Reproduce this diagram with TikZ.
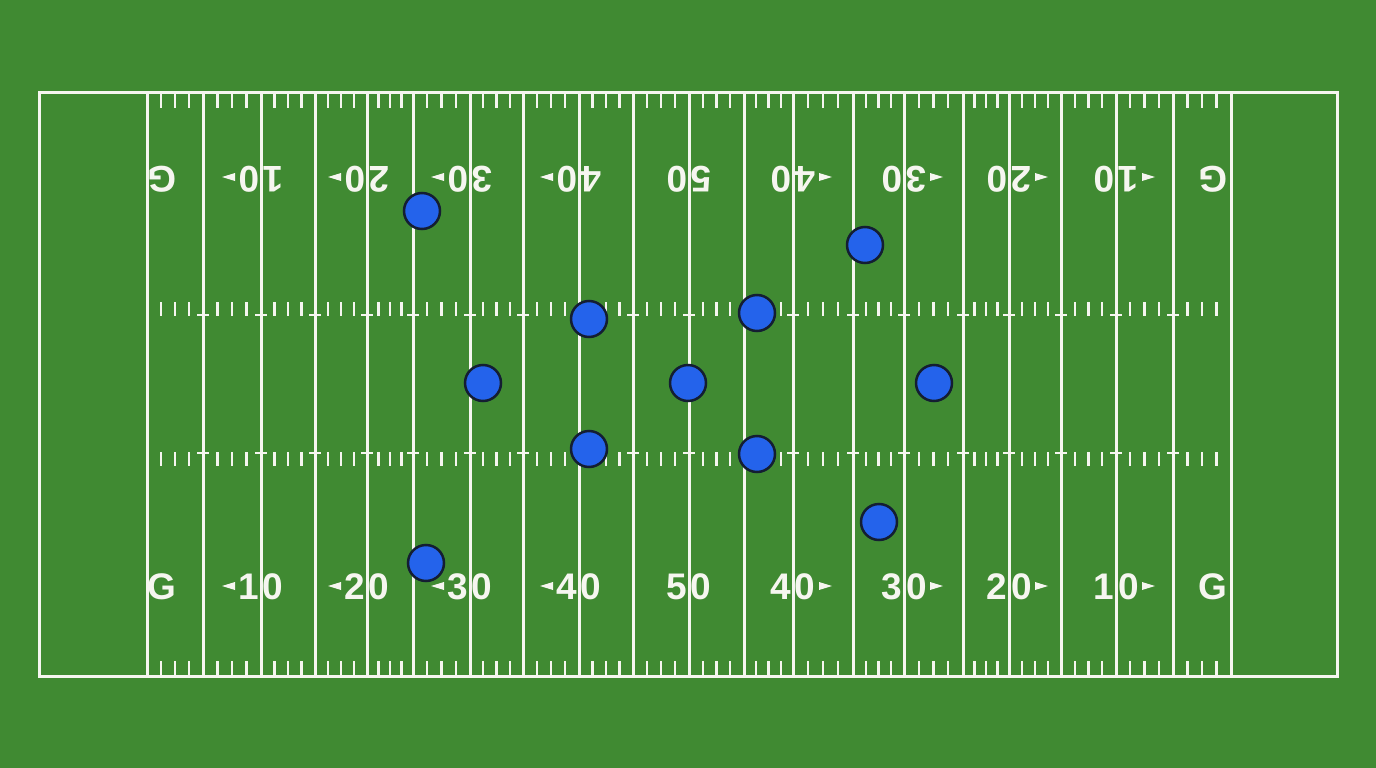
\documentclass[tikz,border=0pt]{standalone}
\usepackage{fontspec}
\setmainfont{Liberation Sans}
\definecolor{turf}{RGB}{64,138,50}
\definecolor{chalk}{RGB}{246,246,240}
\definecolor{playerfill}{RGB}{36,99,235}
\definecolor{playerline}{RGB}{20,30,50}
\newcommand{\ydnum}[2]{#1\kern4pt#2}
\begin{document}
\begin{tikzpicture}[x=1pt,y=-1pt,
  fieldline/.style={chalk, line width=3pt},
  hashtick/.style={chalk, line width=2.4pt},
  num/.style={text=chalk, font=\fontsize{37}{40}\selectfont\bfseries, inner sep=0pt},
  player/.style={circle, fill=playerfill, draw=playerline, line width=2.5pt, minimum size=36pt, inner sep=0pt}]
\fill[turf] (0,0) rectangle (1376,768);
\useasboundingbox (0,0) rectangle (1376,768);
% outer boundary
\draw[fieldline] (39,92) rectangle (1337,676);
% yard lines
\foreach \x in {147,203,261,315,367,413,470,523,579,633,689,744,793,853,904,963,1009,1061,1116,1173,1231}
  \draw[fieldline] (\x,92) -- (\x,676);
% ticks between yard lines
\foreach \a/\b in {147/203,203/261,261/315,315/367,367/413,413/470,470/523,523/579,579/633,633/689,689/744,744/793,793/853,853/904,904/963,963/1009,1009/1061,1061/1116,1116/1173,1173/1231}{
  \foreach \k in {1,2,3}{
    \pgfmathsetmacro\t{\a+(\b-\a)*\k/4}
    \draw[hashtick] (\t,93) -- (\t,108);
    \draw[hashtick] (\t,302) -- (\t,316);
    \draw[hashtick] (\t,452) -- (\t,466);
    \draw[hashtick] (\t,661) -- (\t,675);
  }
}
% T-bars on hash rows
\foreach \x in {203,261,315,367,413,470,523,579,633,689,744,793,853,904,963,1009,1061,1116,1173}{
  \draw[hashtick] (\x-6,315) -- (\x+6,315);
  \draw[hashtick] (\x-6,453) -- (\x+6,453);
}
% numbers, bottom (upright) and top (rotated)
\foreach \x/\d in {261/1,367/2,470/3,579/4}{
  \node[num] (bot\x) at (\x,587) {\ydnum{\d}{0}};
  \node[num, rotate=180] (top\x) at (\x,179) {\ydnum{\d}{0}};
  \fill[chalk] (\x-39,586) -- (\x-26,582) -- (\x-26,590) -- cycle;
  \fill[chalk] (\x-39,177) -- (\x-26,173) -- (\x-26,181) -- cycle;
}
\foreach \x/\d in {793/4,904/3,1009/2,1116/1}{
  \node[num] (bot\x) at (\x,587) {\ydnum{\d}{0}};
  \node[num, rotate=180] (top\x) at (\x,179) {\ydnum{\d}{0}};
  \fill[chalk] (\x+39,586) -- (\x+26,582) -- (\x+26,590) -- cycle;
  \fill[chalk] (\x+39,177) -- (\x+26,173) -- (\x+26,181) -- cycle;
}
\node[num] (bot689) at (689,587) {\ydnum{5}{0}};
\node[num, rotate=180] (top689) at (689,179) {\ydnum{5}{0}};
\node[num] (gbl) at (162,587) {G};
\node[num] (gbr) at (1213,587) {G};
\node[num, rotate=180] (gtl) at (162,179) {G};
\node[num, rotate=180] (gtr) at (1213,179) {G};
% players
\node[player] (p1) at (422,211) {};
\node[player] (p2) at (865,245) {};
\node[player] (p3) at (589,319) {};
\node[player] (p4) at (757,313) {};
\node[player] (p5) at (483,383) {};
\node[player] (p6) at (688,383) {};
\node[player] (p7) at (934,383) {};
\node[player] (p8) at (589,449) {};
\node[player] (p9) at (757,454) {};
\node[player] (p10) at (879,522) {};
\node[player] (p11) at (426,563) {};
\end{tikzpicture}
\end{document}
